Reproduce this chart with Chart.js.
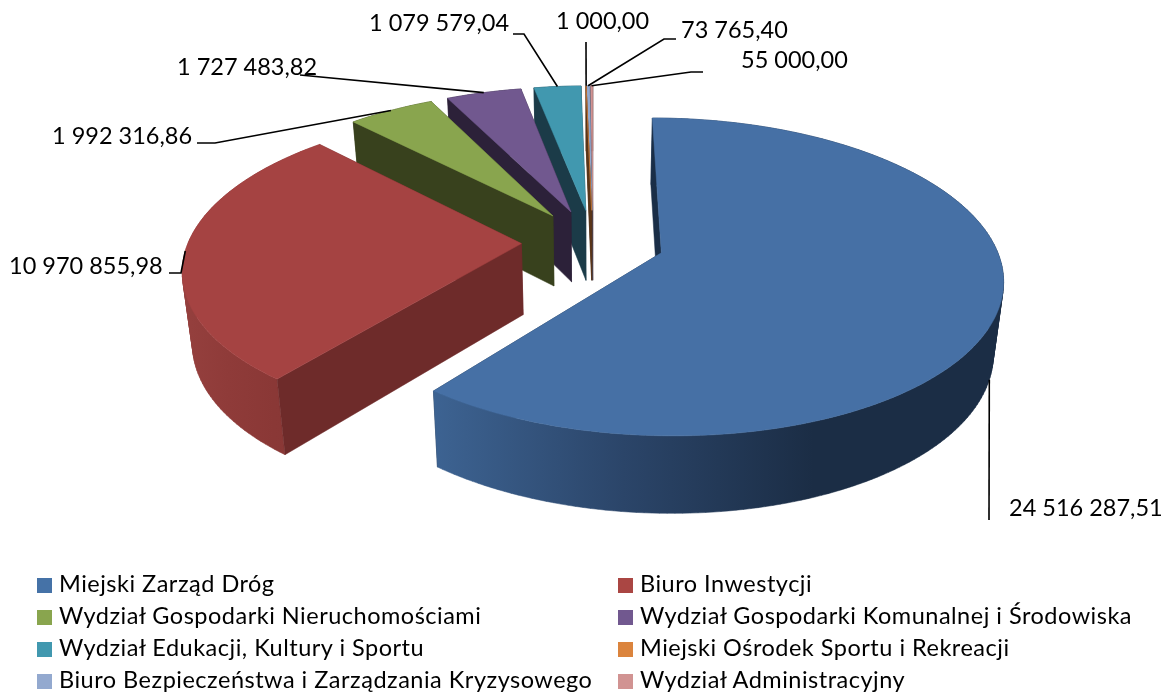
<!DOCTYPE html>
<html lang="pl">
<head>
<meta charset="utf-8"/>
<title>Wydatki wydziałów</title>
<script src="https://cdn.jsdelivr.net/npm/chart.js@4/dist/chart.umd.js"></script>
<style>
  html, body { margin: 0; padding: 0; background: #fff; overflow: hidden; }
  #wrap { position: relative; width: 1165px; height: 694px; }
  #legend { position: absolute; left: 37px; top: 569px; display: grid;
    grid-template-columns: 581px 540px; grid-auto-rows: 32px;
    font: 23.5px Lato, sans-serif; letter-spacing: 0.5px; color: #000; }
  #legend div { display: flex; align-items: center; white-space: nowrap; }
  #legend i { display: block; width: 15px; height: 15px; margin-right: 7px; }
  #legend span { position: relative; top: -2px; }
</style>
</head>
<body>
<div id="wrap">
  <canvas id="myChart" width="1165" height="694"></canvas>
  <div id="legend"></div>
</div>
<script>
const categories = [
  "Miejski Zarząd Dróg",
  "Biuro Inwestycji",
  "Wydział Gospodarki Nieruchomościami",
  "Wydział Gospodarki Komunalnej i Środowiska",
  "Wydział Edukacji, Kultury i Sportu",
  "Miejski Ośrodek Sportu i Rekreacji",
  "Biuro Bezpieczeństwa i Zarządzania Kryzysowego",
  "Wydział Administracyjny"
];
const amounts = [24516287.51, 10970855.98, 1992316.86, 1727483.82, 1079579.04, 1000.00, 73765.40, 55000.00];

const topColors = ["#4670A5", "#A54342", "#89A54E", "#71588F", "#4198AF", "#DB843D", "#93A9CF", "#D19392"];
const legendColors = ["#4572A7", "#AA4643", "#89A54E", "#71588F", "#4198AF", "#DB843D", "#93A9CF", "#D19392"];
const cutColors = ["#1A2E47", "#6E2B2A", "#38411D", "#2C2139", "#1B3B48", "#5A3518", "#3B4454", "#54393A"];
const wallStops = [
  ["#3D6392", "#2B4569", "#1B2D45", "#1B2D45"],
  ["#95403E", "#8F3B39", "#8A3836", "#873735"],
  ["#38411D", "#38411D"], ["#2C2139", "#2C2139"], ["#1B3B48", "#1B3B48"],
  ["#5A3518", "#5A3518"], ["#3B4454", "#3B4454"], ["#54393A", "#54393A"]
];

// fake 3D view: how the flat pie is tipped back
const view = { a: 333, b: 152, persp: 0.15, depth: 71, squeeze: 0.025 };

// where each value label sits, and the elbow of its leader line
const labelBoxes = [
  { x: 1009, y: 508, line: [[989, 520]], wall: true },
  { x: 9, y: 266, line: [[169, 273], [181, 273]] },
  { x: 52, y: 136, line: [[197, 143], [215, 143]] },
  { x: 177, y: 67, line: [[300, 75]] },
  { x: 369, y: 23, line: [[513, 34], [524, 34]] },
  { x: 556, y: 21, line: [[586, 42]] },
  { x: 681, y: 30, line: [[676, 39], [664, 39]] },
  { x: 741, y: 60, line: [[703, 72], [691, 72]] }
];

function formatAmount(v) {
  return v.toFixed(2).replace(".", ",").replace(/\B(?=(\d{3})+(?!\d))/g, " ");
}

// pie angle on the disc -> canvas point, perspective included
function project(arc, angle, r, low) {
  const R = arc.outerRadius;
  const mid = (arc.startAngle + arc.endAngle) / 2;
  const off = arc.options.offset / R;
  const u = off * Math.cos(mid) + r * Math.cos(angle);
  const v = -(off * Math.sin(mid) + r * Math.sin(angle));
  const w = 1 + view.persp * v;
  let x = arc.x + view.a * u / w;
  let y = arc.y - view.b * v / w;
  if (low) {
    x = arc.x + (x - arc.x) * (1 - view.squeeze);
    y += view.depth / Math.sqrt(w);
  }
  return [x, y];
}

function tracePoly(ctx, pts) {
  pts.forEach((p, i) => i ? ctx.lineTo(p[0], p[1]) : ctx.moveTo(p[0], p[1]));
  ctx.closePath();
}

function paint(ctx, fill) {
  ctx.fillStyle = fill;
  ctx.strokeStyle = fill;
  ctx.lineWidth = 0.5;
  ctx.fill();
  ctx.stroke();
}

function fillPoly(ctx, pts, fill) {
  ctx.beginPath();
  tracePoly(ctx, pts);
  paint(ctx, fill);
}

function area(q) {
  let sum = 0;
  q.forEach((p, i) => {
    const n = q[(i + 1) % q.length];
    sum += p[0] * n[1] - n[0] * p[1];
  });
  return sum;
}

function drawWedge(ctx, arc, i) {
  const s = arc.startAngle, e = arc.endAngle;
  const n = Math.max(2, Math.ceil((e - s) / 0.02));
  const rim = [], rimLow = [];
  for (let k = 0; k <= n; k++) {
    const a = s + (e - s) * k / n;
    rim.push(project(arc, a, 1, false));
    rimLow.push(project(arc, a, 1, true));
  }
  const apex = project(arc, s, 0, false), apexLow = project(arc, s, 0, true);

  // far cut, outer wall, near cut, top
  fillPoly(ctx, [apex, rim[n], rimLow[n], apexLow], cutColors[i]);
  const xs = rim.map(p => p[0]);
  const grad = ctx.createLinearGradient(Math.min(...xs), 0, Math.max(...xs), 0);
  wallStops[i].forEach((c, k, all) => grad.addColorStop(k / (all.length - 1), c));
  // one path of same-wound strips, so the silhouette edge is filled and no seams show
  ctx.beginPath();
  for (let k = 0; k < n; k++) {
    const q = [rim[k], rim[k + 1], rimLow[k + 1], rimLow[k]];
    tracePoly(ctx, area(q) < 0 ? q.reverse() : q);
  }
  paint(ctx, grad);
  fillPoly(ctx, [apex, rim[0], rimLow[0], apexLow], cutColors[i]);
  fillPoly(ctx, [apex].concat(rim), topColors[i]);
}

const pie3d = {
  id: "pie3d",
  beforeDatasetDraw(chart, args) {
    const ctx = chart.ctx;
    const arcs = args.meta.data;
    ctx.save();
    for (let i = arcs.length - 1; i >= 0; i--) drawWedge(ctx, arcs[i], i);
    ctx.restore();
    return false; // the library's flat arcs are replaced by the tipped ones
  },
  afterDatasetsDraw(chart) {
    const ctx = chart.ctx;
    const arcs = chart.getDatasetMeta(0).data;
    ctx.save();
    ctx.strokeStyle = "#000";
    ctx.lineWidth = 1.6;
    ctx.fillStyle = "#000";
    ctx.font = "23.5px Lato, sans-serif";
    ctx.textBaseline = "middle";
    arcs.forEach((arc, i) => {
      const box = labelBoxes[i];
      const mid = (arc.startAngle + arc.endAngle) / 2;
      const end = project(arc, mid, 1, !!box.wall);
      ctx.beginPath();
      box.line.forEach((p, k) => k ? ctx.lineTo(p[0], p[1]) : ctx.moveTo(p[0], p[1]));
      ctx.lineTo(end[0], end[1]);
      ctx.stroke();
      ctx.fillText(formatAmount(amounts[i]), box.x, box.y);
    });
    ctx.restore();
  }
};

const chart = new Chart(document.getElementById("myChart"), {
  type: "pie",
  data: {
    labels: categories,
    datasets: [{ data: amounts, backgroundColor: legendColors, borderWidth: 0, offset: 43 }]
  },
  options: {
    responsive: false,
    animation: false,
    radius: 200,
    layout: { padding: { left: 21, right: 0, top: 0, bottom: 210 } },
    plugins: { legend: { display: false }, tooltip: { enabled: false } }
  },
  plugins: [pie3d]
});

// legend in two fixed columns, the built in one can't line them up
const legendBox = document.getElementById("legend");
chart.options.plugins.legend.labels.generateLabels(chart).forEach(item => {
  const row = document.createElement("div");
  const swatch = document.createElement("i");
  const label = document.createElement("span");
  swatch.style.background = item.fillStyle;
  label.textContent = item.text;
  row.appendChild(swatch);
  row.appendChild(label);
  legendBox.appendChild(row);
});
</script>
</body>
</html>
